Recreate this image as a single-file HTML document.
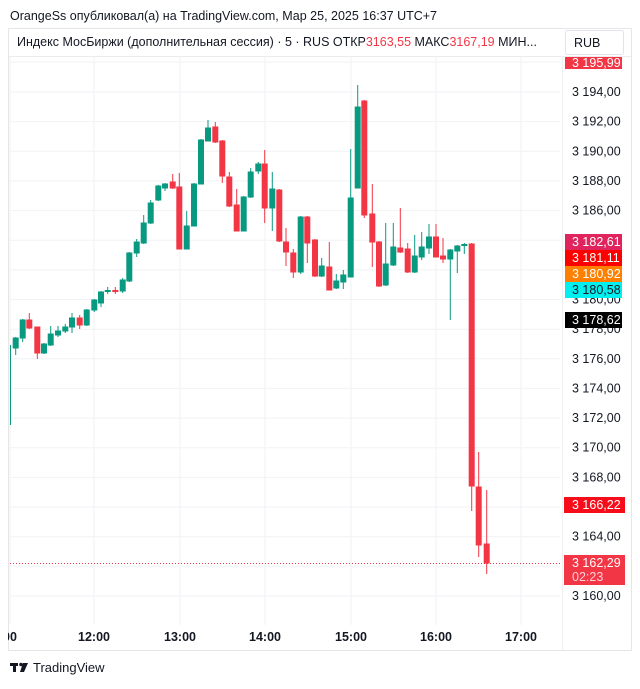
<!DOCTYPE html>
<html><head><meta charset="utf-8"><style>
body{margin:0;background:#fff;width:640px;height:684px;overflow:hidden;font-family:"Liberation Sans",sans-serif}
</style></head><body>
<svg width="640" height="684" xmlns="http://www.w3.org/2000/svg" font-family="Liberation Sans, sans-serif">
<text x="10" y="20" font-size="12.5" fill="#131722">OrangeSs опубликовал(а) на TradingView.com, Мар 25, 2025 16:37 UTC+7</text>
<rect x="8.5" y="28.5" width="623" height="622" fill="none" stroke="#e6e6e6"/>
<g stroke="#f0f2f5" stroke-width="1">
<line x1="10" x2="560" y1="62" y2="62"/><line x1="10" x2="560" y1="92" y2="92"/><line x1="10" x2="560" y1="121.6" y2="121.6"/><line x1="10" x2="560" y1="151.3" y2="151.3"/><line x1="10" x2="560" y1="180.9" y2="180.9"/><line x1="10" x2="560" y1="210.6" y2="210.6"/><line x1="10" x2="560" y1="240.2" y2="240.2"/><line x1="10" x2="560" y1="269.9" y2="269.9"/><line x1="10" x2="560" y1="299.5" y2="299.5"/><line x1="10" x2="560" y1="329.2" y2="329.2"/><line x1="10" x2="560" y1="358.8" y2="358.8"/><line x1="10" x2="560" y1="388.4" y2="388.4"/><line x1="10" x2="560" y1="418.1" y2="418.1"/><line x1="10" x2="560" y1="447.7" y2="447.7"/><line x1="10" x2="560" y1="477.4" y2="477.4"/><line x1="10" x2="560" y1="507" y2="507"/><line x1="10" x2="560" y1="536.7" y2="536.7"/><line x1="10" x2="560" y1="566.3" y2="566.3"/><line x1="10" x2="560" y1="596" y2="596"/>
<line x1="10" x2="10" y1="56" y2="625"/><line x1="94" x2="94" y1="56" y2="625"/><line x1="180" x2="180" y1="56" y2="625"/><line x1="265" x2="265" y1="56" y2="625"/><line x1="351" x2="351" y1="56" y2="625"/><line x1="436" x2="436" y1="56" y2="625"/><line x1="521" x2="521" y1="56" y2="625"/>
</g>
<rect x="9" y="29" width="622" height="27" fill="#fff"/>
<line x1="9" x2="631" y1="56.5" y2="56.5" stroke="#ececec"/>
<text x="17" y="46" font-size="12.5" fill="#131722">Индекс МосБиржи (дополнительная сессия) · 5 · RUS  ОТКР<tspan fill="#f23645">3163,55</tspan>  МАКС<tspan fill="#f23645">3167,19</tspan>  МИН...</text>
<rect x="565.5" y="30.5" width="58" height="24" fill="#fff" stroke="#e0e3eb" rx="2"/>
<text x="574" y="47" font-size="12.5" fill="#131722">RUB</text>
<line x1="10" x2="560" y1="563.5" y2="563.5" stroke="#f23645" stroke-dasharray="1,2"/>
<line x1="10.5" x2="10.5" y1="345" y2="425" stroke="#089981"/>
<g fill="#089981" stroke="#089981" stroke-width="1">
<line x1="15.7" x2="15.7" y1="337" y2="355"/><rect x="13.2" y="338" width="5" height="10"/>
<line x1="22.7" x2="22.7" y1="319" y2="342"/><rect x="20.2" y="320" width="5" height="18"/>
<line x1="44" x2="44" y1="343" y2="354"/><rect x="41.5" y="344" width="5" height="9"/>
<line x1="50.7" x2="50.7" y1="326" y2="346"/><rect x="48.2" y="334" width="5" height="11"/>
<line x1="58" x2="58" y1="326" y2="337"/><rect x="55.5" y="331" width="5" height="4"/>
<line x1="65.3" x2="65.3" y1="324" y2="333"/><rect x="62.8" y="327" width="5" height="4"/>
<line x1="72" x2="72" y1="313" y2="333"/><rect x="69.5" y="318" width="5" height="9"/>
<line x1="86.7" x2="86.7" y1="309" y2="326"/><rect x="84.2" y="310" width="5" height="15"/>
<line x1="94.3" x2="94.3" y1="299" y2="312"/><rect x="91.8" y="300" width="5" height="10"/>
<line x1="101" x2="101" y1="291" y2="307"/><rect x="98.5" y="292" width="5" height="11"/>
<line x1="107.7" x2="107.7" y1="287" y2="294"/><rect x="105.2" y="290.5" width="5" height="1"/>
<line x1="122.7" x2="122.7" y1="278" y2="293"/><rect x="120.2" y="280" width="5" height="11"/>
<line x1="129.3" x2="129.3" y1="252" y2="282"/><rect x="126.8" y="253" width="5" height="28"/>
<line x1="136.7" x2="136.7" y1="239" y2="257"/><rect x="134.2" y="242" width="5" height="11"/>
<line x1="143.7" x2="143.7" y1="215" y2="244"/><rect x="141.2" y="223" width="5" height="20"/>
<line x1="150.7" x2="150.7" y1="200" y2="224"/><rect x="148.2" y="203" width="5" height="20"/>
<line x1="158.3" x2="158.3" y1="185" y2="201"/><rect x="155.8" y="186" width="5" height="14"/>
<line x1="165" x2="165" y1="183" y2="191"/><rect x="162.5" y="184" width="5" height="4"/>
<line x1="186.7" x2="186.7" y1="211" y2="249"/><rect x="184.2" y="226" width="5" height="23"/>
<line x1="194" x2="194" y1="183" y2="226"/><rect x="191.5" y="184" width="5" height="42"/>
<line x1="201" x2="201" y1="139" y2="184"/><rect x="198.5" y="140" width="5" height="44"/>
<line x1="208" x2="208" y1="120" y2="141"/><rect x="205.5" y="128" width="5" height="13"/>
<line x1="243.7" x2="243.7" y1="196" y2="231"/><rect x="241.2" y="197" width="5" height="34"/>
<line x1="250.7" x2="250.7" y1="168" y2="198"/><rect x="248.2" y="172" width="5" height="25"/>
<line x1="258.3" x2="258.3" y1="162" y2="174"/><rect x="255.8" y="164" width="5" height="7"/>
<line x1="272.3" x2="272.3" y1="172" y2="231"/><rect x="269.8" y="189" width="5" height="19"/>
<line x1="300.7" x2="300.7" y1="216" y2="274"/><rect x="298.2" y="217" width="5" height="55"/>
<line x1="321.7" x2="321.7" y1="258" y2="277"/><rect x="319.2" y="266" width="5" height="10"/>
<line x1="336.3" x2="336.3" y1="274" y2="289"/><rect x="333.8" y="281" width="5" height="7"/>
<line x1="343.3" x2="343.3" y1="270" y2="289"/><rect x="340.8" y="275" width="5" height="7"/>
<line x1="350.7" x2="350.7" y1="149" y2="277"/><rect x="348.2" y="198" width="5" height="79"/>
<line x1="357.7" x2="357.7" y1="85" y2="188"/><rect x="355.2" y="107" width="5" height="81"/>
<line x1="385.7" x2="385.7" y1="223" y2="286"/><rect x="383.2" y="264" width="5" height="21"/>
<line x1="393.3" x2="393.3" y1="223" y2="266"/><rect x="390.8" y="247" width="5" height="18"/>
<line x1="414.7" x2="414.7" y1="235" y2="273"/><rect x="412.2" y="256" width="5" height="16"/>
<line x1="421.7" x2="421.7" y1="232" y2="260"/><rect x="419.2" y="247" width="5" height="10"/>
<line x1="429" x2="429" y1="224" y2="254"/><rect x="426.5" y="237" width="5" height="11"/>
<line x1="450.3" x2="450.3" y1="249" y2="320"/><rect x="447.8" y="250" width="5" height="9"/>
<line x1="457.3" x2="457.3" y1="245" y2="273"/><rect x="454.8" y="246" width="5" height="5"/>
<line x1="464.3" x2="464.3" y1="243" y2="254"/><rect x="461.8" y="244.5" width="5" height="1"/>
</g>
<g fill="#f23645" stroke="#f23645" stroke-width="1">
<line x1="29.3" x2="29.3" y1="313" y2="329"/><rect x="26.8" y="320" width="5" height="8"/>
<line x1="37.3" x2="37.3" y1="327" y2="359"/><rect x="34.8" y="327" width="5" height="26"/>
<line x1="79.7" x2="79.7" y1="315" y2="329"/><rect x="77.2" y="318" width="5" height="7"/>
<line x1="115.3" x2="115.3" y1="287" y2="294"/><rect x="112.8" y="290.5" width="5" height="1"/>
<line x1="172.7" x2="172.7" y1="174" y2="189"/><rect x="170.2" y="182" width="5" height="6"/>
<line x1="179.3" x2="179.3" y1="173" y2="249"/><rect x="176.8" y="187" width="5" height="62"/>
<line x1="215.3" x2="215.3" y1="122" y2="143"/><rect x="212.8" y="127" width="5" height="15"/>
<line x1="222.3" x2="222.3" y1="140" y2="183"/><rect x="219.8" y="141" width="5" height="35"/>
<line x1="229.3" x2="229.3" y1="172" y2="207"/><rect x="226.8" y="177" width="5" height="29"/>
<line x1="236.7" x2="236.7" y1="189" y2="231"/><rect x="234.2" y="205" width="5" height="26"/>
<line x1="264.7" x2="264.7" y1="150" y2="223"/><rect x="262.2" y="164" width="5" height="44"/>
<line x1="279.3" x2="279.3" y1="189" y2="242"/><rect x="276.8" y="190" width="5" height="51"/>
<line x1="286" x2="286" y1="228" y2="266"/><rect x="283.5" y="242" width="5" height="10"/>
<line x1="293.3" x2="293.3" y1="249" y2="278"/><rect x="290.8" y="253" width="5" height="19"/>
<line x1="307.3" x2="307.3" y1="216" y2="263"/><rect x="304.8" y="217" width="5" height="26"/>
<line x1="315" x2="315" y1="239" y2="277"/><rect x="312.5" y="240" width="5" height="36"/>
<line x1="329.3" x2="329.3" y1="242" y2="290"/><rect x="326.8" y="267" width="5" height="23"/>
<line x1="364.3" x2="364.3" y1="100" y2="218"/><rect x="361.8" y="101" width="5" height="114"/>
<line x1="372.3" x2="372.3" y1="184" y2="267"/><rect x="369.8" y="214" width="5" height="28"/>
<line x1="379" x2="379" y1="241" y2="287"/><rect x="376.5" y="242" width="5" height="44"/>
<line x1="400.3" x2="400.3" y1="208" y2="253"/><rect x="397.8" y="248" width="5" height="4"/>
<line x1="407.7" x2="407.7" y1="243" y2="273"/><rect x="405.2" y="249" width="5" height="23"/>
<line x1="436" x2="436" y1="224" y2="257"/><rect x="433.5" y="237" width="5" height="20"/>
<line x1="443" x2="443" y1="238" y2="263"/><rect x="440.5" y="256" width="5" height="3"/>
<line x1="471.7" x2="471.7" y1="243" y2="511"/><rect x="469.2" y="244" width="5" height="242"/>
<line x1="478.7" x2="478.7" y1="452" y2="557"/><rect x="476.2" y="487" width="5" height="58"/>
<line x1="486.7" x2="486.7" y1="490" y2="574"/><rect x="484.2" y="544" width="5" height="19"/>
</g>
<g font-size="12.5" fill="#131722">
<text x="572" y="96">3 194,00</text><text x="572" y="125.6">3 192,00</text><text x="572" y="155.3">3 190,00</text><text x="572" y="184.9">3 188,00</text><text x="572" y="214.6">3 186,00</text><text x="572" y="303.5">3 180,00</text><text x="572" y="333.2">3 178,00</text><text x="572" y="362.8">3 176,00</text><text x="572" y="392.4">3 174,00</text><text x="572" y="422.1">3 172,00</text><text x="572" y="451.7">3 170,00</text><text x="572" y="481.4">3 168,00</text><text x="572" y="540.7">3 164,00</text><text x="572" y="600">3 160,00</text>
</g>
<g font-size="12.5" fill="#fff">
<rect x="565" y="57" width="57" height="12" fill="#f23645"/><text x="572" y="67">3 195,99</text>
<rect x="565" y="234" width="57" height="16" fill="#e0245e"/><text x="572" y="246">3 182,61</text>
<rect x="565" y="250" width="57" height="16" fill="#ff0000"/><text x="572" y="262">3 181,11</text>
<rect x="565" y="266" width="57" height="16" fill="#ff8000"/><text x="572" y="278">3 180,92</text>
<rect x="565" y="282" width="57" height="16" fill="#00f0f0"/><text x="572" y="294" fill="#131722">3 180,58</text>
<rect x="565" y="312" width="57" height="16" fill="#000"/><text x="572" y="324">3 178,62</text>
<rect x="564" y="497" width="61" height="16" fill="#f70d1a"/><text x="572" y="509">3 166,22</text>
<rect x="564" y="555" width="61" height="30" fill="#f23645"/><text x="572" y="567">3 162,29</text><text x="572" y="581" fill="#fbd0d4">02:23</text>
</g>
<line x1="562.5" x2="562.5" y1="57" y2="650" stroke="#f0f0f0"/>
<g font-size="12.5" font-weight="bold" fill="#131722">
<text x="10" y="641" text-anchor="middle">00</text>
<text x="94" y="641" text-anchor="middle">12:00</text><text x="180" y="641" text-anchor="middle">13:00</text><text x="265" y="641" text-anchor="middle">14:00</text><text x="351" y="641" text-anchor="middle">15:00</text><text x="436" y="641" text-anchor="middle">16:00</text><text x="521" y="641" text-anchor="middle">17:00</text>
</g>
<rect x="0" y="628" width="8" height="20" fill="#fff"/>
<g fill="#131722"><rect x="10" y="663" width="8" height="3"/><rect x="13" y="663" width="3" height="9"/><circle cx="21" cy="664.5" r="1.8"/><path d="M23 663h5l-4 9h-4z"/></g>
<text x="33" y="672" font-size="13" fill="#131722">TradingView</text>
</svg>
</body></html>
